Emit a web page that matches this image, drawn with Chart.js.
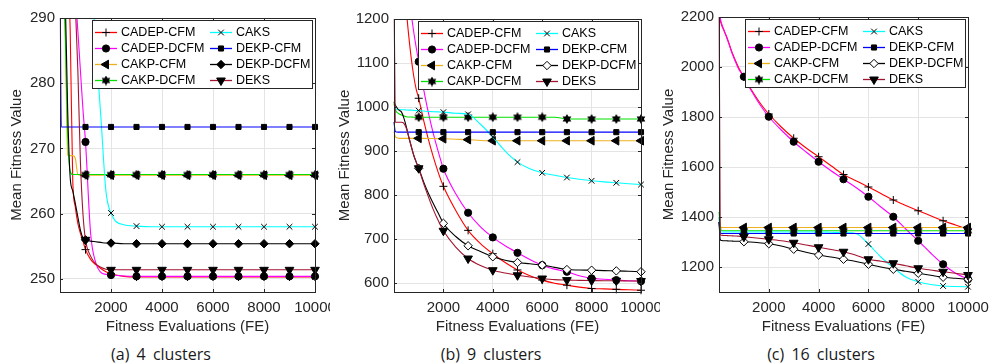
<!DOCTYPE html>
<html>
<head>
<meta charset="utf-8">
<script src="https://cdn.jsdelivr.net/npm/chart.js@4.4.1/dist/chart.umd.min.js"></script>
<style>
  html, body { margin: 0; padding: 0; background: #fff; }
  #wrap { position: relative; width: 991px; height: 364px; overflow: hidden; }
  #wrap canvas { position: absolute; top: 0; }
  .cap { position: absolute; top: 343px; width: 330px; text-align: center;
         font: 16px "Open Sans", sans-serif; color: #1a1a1a; word-spacing: 3px; }
</style>
</head>
<body>
<div id="wrap">
  <canvas id="cA" width="330" height="340" style="left:0"></canvas>
  <canvas id="cB" width="330" height="340" style="left:330px"></canvas>
  <canvas id="cC" width="331" height="340" style="left:660px"></canvas>
  <div class="cap" style="left:-4px">(a) 4 clusters</div>
  <div class="cap" style="left:326px">(b) 9 clusters</div>
  <div class="cap" style="left:656px">(c) 16 clusters</div>
</div>
<script>
/* ---------- data ---------- */
const seriesNames = ['CADEP-CFM', 'CADEP-DCFM', 'CAKP-CFM', 'CAKP-DCFM', 'CAKS', 'DEKP-CFM', 'DEKP-DCFM', 'DEKS'];
const fe = [0, 50, 100, 200, 300, 400, 500, 600, 700, 800, 900, 1000, 1200, 1400, 1600, 1800, 2000,
            2500, 3000, 3500, 4000, 4500, 5000, 5500, 6000, 6500, 7000, 7500, 8000, 8500, 9000, 9500, 10000];
const xTicks = [2000, 4000, 6000, 8000, 10000];

// (a) 4 clusters
const yTicksA = [250, 260, 270, 280, 290];
const a_cadepCfm  = [320, 318, 315, 308, 298, 288, 265, 261, 258.5, 257, 255.8, 254.5, 253, 252.2, 251.6, 251.1, 250.8, 250.4, 250.3, 250.3, 250.3, 250.3, 250.3, 250.3, 250.3, 250.3, 250.3, 250.3, 250.3, 250.3, 250.3, 250.3, 250.3];
const a_cadepDcfm = [340, 338, 335, 328, 320, 310, 300, 294, 288, 282, 276, 271, 257, 252.5, 251, 250.7, 250.6, 250.45, 250.4, 250.4, 250.4, 250.4, 250.4, 250.4, 250.4, 250.4, 250.4, 250.4, 250.4, 250.4, 250.4, 250.4, 250.4];
const a_cakpCfm   = [300, 299, 297, 290, 269, 268.9, 268.9, 268.5, 266, 265.9, 265.9, 265.9, 265.9, 265.9, 265.9, 265.9, 265.9, 265.9, 265.9, 265.9, 265.9, 265.9, 265.9, 265.9, 265.9, 265.9, 265.9, 265.9, 265.9, 265.9, 265.9, 265.9, 265.9];
const a_cakpDcfm  = [300, 298, 295, 288, 272, 266.5, 266, 266, 266, 266, 266, 266, 266, 266, 266, 266, 266, 266, 266, 266, 266, 266, 266, 266, 266, 266, 266, 266, 266, 266, 266, 266, 266];
const a_caks      = [360, 358, 355, 350, 345, 340, 335, 330, 325, 320, 315, 310, 298, 286, 275, 263.5, 260.1, 258.3, 258.1, 258, 258, 258, 258, 258, 258, 258, 258, 258, 258, 258, 258, 258, 258];
const a_dekpCfm   = [300, 273.3, 273.3, 273.3, 273.3, 273.3, 273.3, 273.3, 273.3, 273.3, 273.3, 273.3, 273.3, 273.3, 273.3, 273.3, 273.3, 273.3, 273.3, 273.3, 273.3, 273.3, 273.3, 273.3, 273.3, 273.3, 273.3, 273.3, 273.3, 273.3, 273.3, 273.3, 273.3];
const a_dekpDcfm  = [310, 305, 300, 294, 276, 265.5, 263.5, 261.6, 259.5, 257.5, 256.3, 256, 255.8, 255.7, 255.6, 255.5, 255.5, 255.4, 255.4, 255.4, 255.4, 255.4, 255.4, 255.4, 255.4, 255.4, 255.4, 255.4, 255.4, 255.4, 255.4, 255.4, 255.4];
const a_deks      = [340, 338, 335, 327, 320, 312, 302, 292, 282, 268, 260, 256, 253.5, 252.3, 251.8, 251.5, 251.4, 251.4, 251.4, 251.4, 251.4, 251.4, 251.4, 251.4, 251.4, 251.4, 251.4, 251.4, 251.4, 251.4, 251.4, 251.4, 251.4];

// (b) 9 clusters
const yTicksB = [600, 700, 800, 900, 1000, 1100, 1200];
const b_cadepCfm  = [1700, 1650, 1600, 1500, 1400, 1300, 1220, 1160, 1110, 1070, 1040, 1020, 970, 925, 885, 850, 820, 765, 720, 690, 667, 647, 630, 617, 607, 600, 595.5, 591, 588, 587, 586, 585, 584];
const b_cadepDcfm = [1800, 1750, 1700, 1600, 1500, 1400, 1320, 1250, 1210, 1170, 1135, 1103, 1040, 985, 938, 897, 860, 803, 760, 728, 704, 685, 669, 654, 641, 632, 626, 617, 611, 609, 607, 605.5, 604.5];
const b_cakpCfm   = [945, 933, 931, 929, 929, 929, 929, 929, 929, 929, 929, 929, 929, 928.5, 928.5, 928, 928, 927, 926, 924, 923.5, 923.5, 923.5, 923.5, 923.5, 923.5, 923.5, 923.5, 923.5, 923.5, 923.5, 923.5, 923.5];
const b_cakpDcfm  = [1009, 995, 989, 985, 982, 980, 978, 977.5, 977.5, 977, 977, 977, 977, 977, 977, 977, 977, 977, 977, 977, 977, 977, 977, 977, 977, 977, 973, 973, 973, 973, 973, 973, 973];
const b_caks      = [998, 996, 995, 994.5, 994, 994, 993.5, 993, 993, 992.5, 992, 992, 991, 990, 989.5, 989, 988.5, 986, 983.5, 961, 932, 900, 875, 860, 850.7, 845, 840, 836, 832.6, 830, 828, 826, 824];
const b_dekpCfm   = [966, 945, 943.5, 943, 943, 943, 943, 943, 943, 943, 943, 943, 943, 943, 943, 943, 943, 943, 943, 943, 943, 943, 943, 943, 943, 943, 943, 943, 943, 943, 943, 943, 943];
const b_dekpDcfm  = [1012, 1005, 1000, 993, 989, 975, 955, 931, 910, 890, 875, 861, 830, 803, 780, 758, 736, 706, 685, 672, 660, 652, 647, 644, 641, 636, 631, 630, 629.5, 628.5, 628, 627, 626];
const b_deks      = [1300, 966, 965.5, 965.5, 965.5, 963, 952, 932, 911, 891, 875, 861, 826, 795, 766, 741, 719, 682, 656, 640, 629.5, 623, 618, 614, 610.6, 608, 607, 606.5, 606, 605.5, 605.5, 605, 605];

// (c) 16 clusters
const yTicksC = [1200, 1400, 1600, 1800, 2000, 2200];
const c_cadepCfm  = [2260, 2190, 2170, 2145, 2123, 2095, 2065, 2040, 2017, 1995, 1977, 1960, 1925, 1893, 1863, 1836, 1812, 1760, 1715, 1676, 1641, 1605, 1570, 1545, 1520, 1494, 1468, 1446, 1425, 1405, 1385, 1368, 1351];
const c_cadepDcfm = [2270, 2200, 2175, 2148, 2120, 2092, 2062, 2036, 2012, 1990, 1975, 1961, 1922, 1888, 1856, 1827, 1801, 1748, 1701, 1660, 1621, 1585, 1551, 1518, 1481, 1440, 1401, 1352, 1305, 1256, 1211, 1175, 1151];
const c_cakpCfm   = [1400, 1359, 1358.5, 1358, 1358, 1358, 1358, 1358, 1358, 1358, 1358, 1358, 1358, 1358, 1358, 1358, 1358, 1358, 1358, 1358, 1358, 1358, 1358, 1358, 1358, 1358, 1358, 1358, 1358, 1358, 1358, 1358, 1358];
const c_cakpDcfm  = [1420, 1370, 1346, 1345, 1345, 1345, 1345, 1345, 1345, 1345, 1345, 1345, 1345, 1345, 1345, 1345, 1345, 1345, 1345, 1345, 1345, 1345, 1345, 1345, 1345, 1345, 1345, 1345, 1345, 1345, 1345, 1345, 1345];
const c_caks      = [1400, 1340, 1340, 1340, 1340, 1340, 1340, 1340, 1340, 1340, 1340, 1340, 1340, 1340, 1340, 1340, 1340, 1340, 1340, 1340, 1340, 1339, 1338, 1334, 1292, 1240, 1198, 1160, 1141, 1130, 1124, 1122, 1121];
const c_dekpCfm   = [1380, 1335, 1334, 1334, 1334, 1334, 1334, 1334, 1334, 1334, 1334, 1334, 1334, 1334, 1334, 1334, 1334, 1334, 1334, 1334, 1334, 1334, 1334, 1334, 1334, 1334, 1334, 1334, 1334, 1334, 1334, 1334, 1334];
const c_dekpDcfm  = [1380, 1310, 1306, 1305, 1305, 1304, 1304, 1303, 1303, 1303, 1303, 1301, 1300, 1299, 1297, 1295, 1293, 1284, 1271, 1259, 1248, 1240, 1231, 1222, 1211, 1200, 1191, 1183, 1175, 1167, 1159, 1155, 1151];
const c_deks      = [2400, 1328, 1327, 1326, 1326, 1325, 1325, 1324, 1324, 1323, 1322, 1321, 1319, 1317, 1315, 1313, 1311, 1305, 1297, 1288, 1279, 1270, 1261, 1247, 1231, 1223, 1215, 1205, 1195, 1188, 1181, 1175, 1168];

/* ---------- styles ---------- */
const seriesColors = ['#ff0000', '#ff00ff', '#edb120', '#00e000', '#00ffff', '#0000ff', '#000000', '#a2142f'];
const FONT = '"Liberation Sans", Arial, sans-serif';
const INK = '#262626';

function hexagram(size) {
  const c = document.createElement('canvas');
  c.width = c.height = size;
  const g = c.getContext('2d');
  const r = size / 2, ri = r * 0.58;
  g.beginPath();
  for (let i = 0; i < 12; i++) {
    const a = -Math.PI / 2 + i * Math.PI / 6;
    const rr = i % 2 ? ri : r;
    g.lineTo(r + rr * Math.cos(a), r + rr * Math.sin(a));
  }
  g.closePath();
  g.fillStyle = '#000';
  g.fill();
  return c;
}
const hexImg = hexagram(10);

const markers = diamondFill => [
  { style: 'cross',    r: 4,   rot: 0 },
  { style: 'circle',   r: 3.6, rot: 0 },
  { style: 'triangle', r: 5,   rot: -90 },
  { style: hexImg,     r: 5,   rot: 0 },
  { style: 'crossRot', r: 4,   rot: 0 },
  { style: 'rect',     r: 3.6, rot: 0 },
  { style: 'rectRot',  r: 4.2, rot: 0, fill: diamondFill },
  { style: 'triangle', r: 5,   rot: 180 }
];

const isMark = x => x >= 1000 && x % 1000 === 0;

/* ---------- plugins ---------- */
const framePlugin = {
  id: 'frame',
  afterDatasetsDraw(chart, args, opts) {
    const { ctx, chartArea: ca } = chart;
    const xs = chart.scales.x, ys = chart.scales.y;
    ctx.save();
    ctx.strokeStyle = INK;
    ctx.lineWidth = 1;
    ctx.strokeRect(Math.round(ca.left) + 0.5, Math.round(ca.top) + 0.5,
                   Math.round(ca.right - ca.left), Math.round(ca.bottom - ca.top));
    ctx.beginPath();
    xTicks.forEach(v => {
      const px = Math.round(xs.getPixelForValue(v)) + 0.5;
      ctx.moveTo(px, ca.bottom); ctx.lineTo(px, ca.bottom - 3);
      ctx.moveTo(px, ca.top); ctx.lineTo(px, ca.top + 3);
    });
    opts.yTicks.forEach(v => {
      const py = Math.round(ys.getPixelForValue(v)) + 0.5;
      ctx.moveTo(ca.left, py); ctx.lineTo(ca.left + 3, py);
      ctx.moveTo(ca.right, py); ctx.lineTo(ca.right - 3, py);
    });
    ctx.stroke();
    ctx.restore();
  }
};

function drawMarker(ctx, m, x, y) {
  ctx.save();
  ctx.fillStyle = m.fill || '#000';
  ctx.strokeStyle = '#000';
  ctx.lineWidth = 1;
  if (Chart.helpers && Chart.helpers.drawPoint) {
    Chart.helpers.drawPoint(ctx, { pointStyle: m.style, radius: m.r, rotation: m.rot, borderWidth: 1 }, x, y);
  } else {
    ctx.beginPath(); ctx.arc(x, y, m.r, 0, Math.PI * 2); ctx.fill();
  }
  ctx.restore();
}

const legendPlugin = {
  id: 'boxLegend',
  afterDraw(chart, args, opts) {
    const { ctx, chartArea: ca } = chart;
    const w = 220, h = 68;
    const left = ca.right - 3 - w, top = ca.top + 2;
    ctx.save();
    ctx.fillStyle = '#fff';
    ctx.fillRect(left, top, w, h);
    ctx.strokeStyle = INK;
    ctx.lineWidth = 1;
    ctx.strokeRect(Math.round(left) + 0.5, Math.round(top) + 0.5, w, h);
    ctx.font = '12.5px ' + FONT;
    ctx.textBaseline = 'middle';
    seriesNames.forEach((name, i) => {
      const col = Math.floor(i / 4), row = i % 4;
      const x0 = left + (col ? 118 : 3);
      const y = top + 12.5 + row * 16;
      ctx.strokeStyle = seriesColors[i];
      ctx.lineWidth = 1.3;
      ctx.beginPath(); ctx.moveTo(x0, y); ctx.lineTo(x0 + 22, y); ctx.stroke();
      drawMarker(ctx, opts.marks[i], x0 + 11, y);
      ctx.fillStyle = '#000';
      ctx.fillText(name, x0 + 26, y + 0.5);
    });
    ctx.restore();
  }
};

/* ---------- chart builder ---------- */
function buildPanel(id, series, yMin, yMax, yTicks, pad, yWidth, diamondFill) {
  const marks = markers(diamondFill);
  const datasets = series.map((vals, i) => {
    const m = marks[i];
    return {
      label: seriesNames[i],
      data: fe.map((x, k) => ({ x: x, y: vals[k] })),
      borderColor: seriesColors[i],
      borderWidth: 1.1,
      fill: false,
      cubicInterpolationMode: 'monotone',
      pointStyle: m.style,
      pointRotation: m.rot,
      pointRadius: ctx => (ctx.raw && isMark(ctx.raw.x)) ? m.r : 0,
      pointHoverRadius: 0,
      pointBackgroundColor: m.fill || '#000',
      pointBorderColor: '#000',
      pointBorderWidth: 1,
      order: seriesNames.length - i,
      clip: { left: 1, top: 0, right: 10, bottom: 10 }
    };
  });
  const tickFont = { family: FONT, size: 15 };
  return new Chart(document.getElementById(id), {
    type: 'line',
    data: { datasets },
    plugins: [framePlugin, legendPlugin],
    options: {
      responsive: false,
      animation: false,
      devicePixelRatio: 1,
      layout: { padding: pad },
      events: [],
      plugins: {
        legend: { display: false },
        tooltip: { enabled: false },
        frame: { yTicks },
        boxLegend: { marks }
      },
      scales: {
        x: {
          type: 'linear', min: 0, max: 10000,
          afterBuildTicks: s => { s.ticks = xTicks.map(v => ({ value: v })); },
          afterFit: s => { s.height = 48; s.paddingLeft = 0; s.paddingRight = 0; },
          ticks: { callback: v => String(v), font: tickFont, color: INK, padding: 7, autoSkip: false, maxRotation: 0 },
          grid: { color: '#e4e4e4', drawTicks: false },
          border: { display: false },
          title: { display: true, text: 'Fitness Evaluations (FE)', font: tickFont, color: INK, padding: { top: 0, bottom: 4 } }
        },
        y: {
          type: 'linear', min: yMin, max: yMax,
          afterBuildTicks: s => { s.ticks = yTicks.map(v => ({ value: v })); },
          afterFit: s => { s.width = yWidth; s.paddingTop = 0; s.paddingBottom = 0; },
          ticks: { callback: v => String(v), font: tickFont, color: INK, padding: 5, autoSkip: false },
          grid: { color: '#e4e4e4', drawTicks: false },
          border: { display: false },
          title: { display: true, text: 'Mean Fitness Value', font: tickFont, color: INK, padding: { top: 0, bottom: 0 } }
        }
      }
    }
  });
}

buildPanel('cA',
  [a_cadepCfm, a_cadepDcfm, a_cakpCfm, a_cakpDcfm, a_caks, a_dekpCfm, a_dekpDcfm, a_deks],
  248, 290, yTicksA, { left: 8, top: 18, right: 15, bottom: 0 }, 52, '#000');
buildPanel('cB',
  [b_cadepCfm, b_cadepDcfm, b_cakpCfm, b_cakpDcfm, b_caks, b_dekpCfm, b_dekpDcfm, b_deks],
  580, 1200, yTicksB, { left: 6, top: 19, right: 19, bottom: 0 }, 58, '#fff');
buildPanel('cC',
  [c_cadepCfm, c_cadepDcfm, c_cakpCfm, c_cakpDcfm, c_caks, c_dekpCfm, c_dekpDcfm, c_deks],
  1100, 2200, yTicksC, { left: 0, top: 17, right: 23, bottom: 0 }, 59, '#fff');
</script>
</body>
</html>
